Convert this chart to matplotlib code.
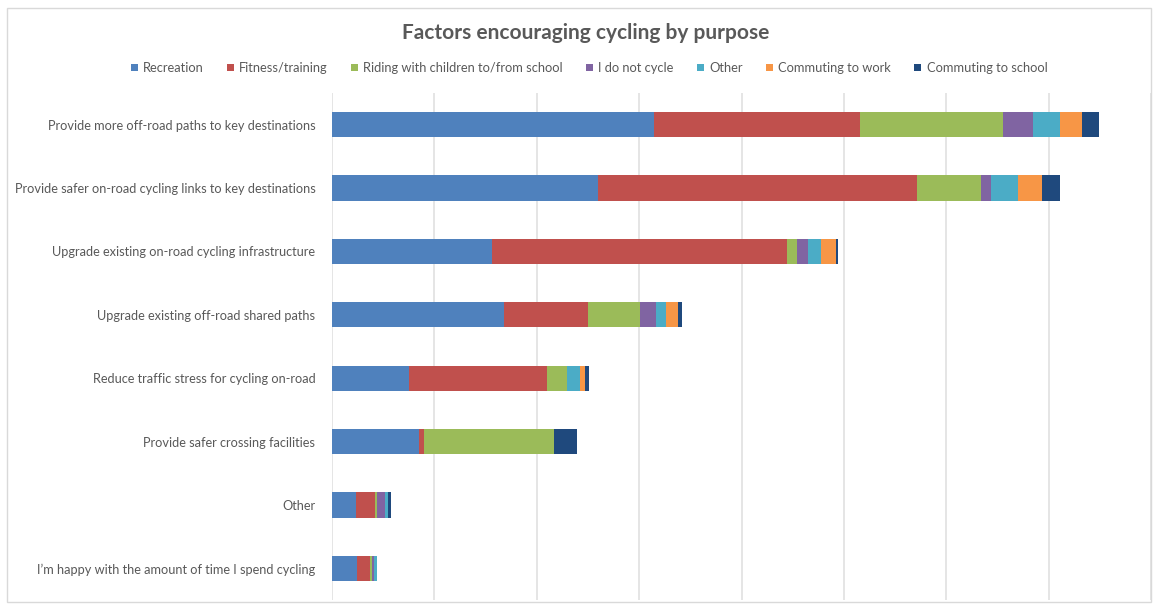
import matplotlib.pyplot as plt
import matplotlib.patches as patches
import numpy as np

plt.rcParams['font.family'] = ['Lato', 'DejaVu Sans']

categories = [
    'Provide more off-road paths to key destinations',
    'Provide safer on-road cycling links to key destinations',
    'Upgrade existing on-road cycling infrastructure',
    'Upgrade existing off-road shared paths',
    'Reduce traffic stress for cycling on-road',
    'Provide safer crossing facilities',
    'Other',
    "I\u2019m happy with the amount of time I spend cycling",
]

series_names = ['Recreation', 'Fitness/training', 'Riding with children to/from school',
                'I do not cycle', 'Other', 'Commuting to work', 'Commuting to school']

recreation = [63.0, 52.0, 31.2, 33.6, 15.1, 16.9, 4.7, 4.8]
fitness = [40.1, 62.3, 57.6, 16.5, 26.9, 1.1, 3.7, 2.6]
children = [28.0, 12.5, 2.1, 10.0, 4.0, 25.4, 0.3, 0.4]
no_cycle = [5.9, 2.0, 2.0, 3.1, 0.0, 0.0, 1.6, 0.4]
other = [5.3, 5.2, 2.7, 2.0, 2.4, 0.0, 0.7, 0.5]
commute_work = [4.3, 4.7, 2.9, 2.3, 1.1, 0.0, 0.0, 0.0]
commute_school = [3.2, 3.6, 0.4, 0.9, 0.8, 4.4, 0.45, 0.0]

colors = ['#4F81BD', '#C0504D', '#9BBB59', '#8064A2', '#4BACC6', '#F79646', '#1F497D']

fig = plt.figure(figsize=(11.53, 6.07), dpi=100)
ax = fig.add_axes([332 / 1153, 1 - 600 / 607, (1151 - 332) / 1153, (600 - 93) / 607])

y = np.arange(len(categories))
left = np.zeros(len(categories))
all_series = [recreation, fitness, children, no_cycle, other, commute_work, commute_school]
for name, vals, c in zip(series_names, all_series, colors):
    vals = np.array(vals)
    ax.barh(y, vals, left=left, height=0.4, color=c, label=name, zorder=3)
    left += vals

ax.set_xlim(0, 160)
ax.set_ylim(len(categories) - 0.5, -0.5)
ax.set_xticks(np.arange(0, 161, 20))
ax.set_xticklabels([])
ax.set_yticks(y)
ax.set_yticklabels(categories, fontsize=9.2, color='#595959')
ax.tick_params(length=0, pad=12)
ax.grid(axis='x', color='#e0e0e0', linewidth=1.2, zorder=0)
for s in ax.spines.values():
    s.set_visible(False)

fig.text(586 / 1153, 1 - 33 / 607, 'Factors encouraging cycling by purpose',
         ha='center', va='center', fontsize=15, fontweight='bold', color='#595959')

leg = fig.legend(loc='center', bbox_to_anchor=(589 / 1153, 1 - 68 / 607), ncol=7,
                 frameon=False, fontsize=9.3, handlelength=0.55, handleheight=0.55,
                 handletextpad=0.4, columnspacing=1.8)
for t in leg.get_texts():
    t.set_color('#595959')

# outer chart border
fig.patches.append(patches.Rectangle((7 / 1153, 1 - 602 / 607), (1151 - 7) / 1153, (602 - 8) / 607,
                                     transform=fig.transFigure, fill=False,
                                     edgecolor='#d9d9d9', linewidth=1))

fig.savefig('out.png', dpi=100)
